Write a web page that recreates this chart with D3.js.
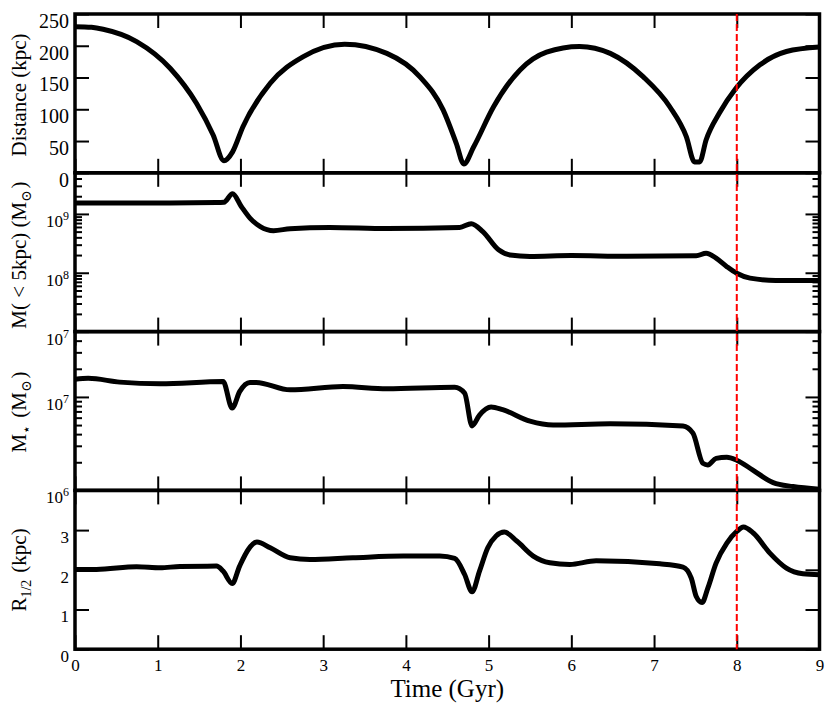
<!DOCTYPE html>
<html>
<head>
<meta charset="utf-8">
<script src="https://cdn.jsdelivr.net/npm/d3@7"></script>
<style>
  body { margin: 0; background: #fff; }
  svg, svg text { font-family: "Liberation Serif", "DejaVu Serif", serif !important; }
</style>
</head>
<body>
<svg width="830" height="706"></svg>
<script>
// distance to host (kpc)
const distT = [0, 0.2, 0.34, 0.745, 1.15, 1.47, 1.67, 1.80, 1.905, 2.03, 2.36, 2.76, 3.26, 3.77, 4.17, 4.45, 4.61, 4.70, 4.82, 5.06, 5.38, 5.70, 6.10, 6.47, 6.87, 7.19, 7.39, 7.49, 7.55, 7.63, 7.79, 7.99, 8.28, 8.60, 9.0];
const distV = [230, 229, 226, 206.6, 164.6, 109, 59.5, 19, 33, 72.5, 141, 183, 202.5, 188, 151, 99, 46, 14, 41, 104, 162, 190, 199, 188, 151, 104, 57, 17, 17, 52, 94, 133, 170, 191, 198];

// mass inside 5 kpc (Msun)
const m5T = [0, 1.0, 1.71, 1.80, 1.905, 2.01, 2.115, 2.24, 2.40, 2.60, 3.08, 3.77, 4.65, 4.79, 4.93, 5.12, 5.26, 5.50, 6.0, 6.67, 7.51, 7.63, 7.75, 7.88, 8.0, 8.16, 8.47, 9.0];
const m5V = [1.53e9, 1.53e9, 1.56e9, 1.58e9, 2.2e9, 1.34e9, 8.5e8, 6.1e8, 5.2e8, 5.6e8, 5.9e8, 5.65e8, 5.9e8, 6.8e8, 5.0e8, 2.45e8, 2.0e8, 1.89e8, 1.96e8, 1.9e8, 1.94e8, 2.15e8, 1.77e8, 1.27e8, 9.8e7, 8.1e7, 7.4e7, 7.4e7];

// stellar mass (Msun)
const mstT = [0, 0.16, 0.54, 1.03, 1.79, 1.90, 1.99, 2.115, 2.19, 2.60, 3.24, 3.77, 4.59, 4.71, 4.80, 4.89, 5.03, 5.17, 5.50, 5.78, 6.47, 7.35, 7.47, 7.59, 7.65, 7.75, 7.88, 8.0, 8.19, 8.44, 8.68, 9.0];
const mstV = [1.55e7, 1.58e7, 1.44e7, 1.38e7, 1.46e7, 7.6e6, 1.14e7, 1.43e7, 1.43e7, 1.19e7, 1.29e7, 1.22e7, 1.27e7, 1.10e7, 4.9e6, 6.4e6, 7.8e6, 7.3e6, 5.5e6, 5.0e6, 5.15e6, 4.9e6, 4.1e6, 1.95e6, 1.87e6, 2.2e6, 2.26e6, 2.1e6, 1.66e6, 1.21e6, 1.1e6, 1.03e6];

// half-light radius (kpc)
const rT = [0, 0.26, 0.745, 1.03, 1.27, 1.71, 1.79, 1.90, 1.99, 2.095, 2.20, 2.36, 2.60, 2.84, 3.36, 3.97, 4.41, 4.59, 4.71, 4.80, 4.89, 4.99, 5.09, 5.19, 5.34, 5.54, 5.74, 5.98, 6.30, 7.07, 7.35, 7.45, 7.51, 7.58, 7.65, 7.75, 7.88, 8.0, 8.08, 8.20, 8.40, 8.60, 8.80, 9.0];
const rV = [2.01, 2.01, 2.075, 2.05, 2.085, 2.093, 1.967, 1.655, 2.093, 2.512, 2.70, 2.555, 2.303, 2.26, 2.303, 2.345, 2.345, 2.285, 1.882, 1.445, 1.967, 2.555, 2.85, 2.95, 2.724, 2.345, 2.177, 2.134, 2.227, 2.15, 2.068, 1.79, 1.327, 1.175, 1.538, 2.169, 2.673, 2.966, 3.077, 2.926, 2.42, 2.043, 1.90, 1.874];

const xTicks = [0, 1, 2, 3, 4, 5, 6, 7, 8, 9];
const distTicks = [0, 50, 100, 150, 200, 250];
const m5Ticks = [1e7, 1e8, 1e9];
const mstTicks = [1e6, 1e7];
const rTicks = [0, 1, 2, 3];
const markTime = 8;

const svg = d3.select('svg');
const padL = 75, padR = 819.5, padT = 14, panelH = 158.8;

const x = d3.scaleLinear().domain([0, 9]).range([padL, padR]);

const minorLog = (lo, hi) => {
  let out = [];
  for (let e = Math.floor(Math.log10(lo)); e <= Math.ceil(Math.log10(hi)); e++) {
    for (let k = 2; k <= 9; k++) {
      let v = k * Math.pow(10, e);
      if (v > lo && v < hi) out.push(v);
    }
  }
  return out;
};

const panels = [
  {t: distT, v: distV, scale: d3.scaleLinear().domain([0, 250]), ticks: distTicks, minor: [], log: false, fs: 20},
  {t: m5T, v: m5V, scale: d3.scaleLog().domain([1e7, 5e9]), ticks: m5Ticks, minor: minorLog(1e7, 5e9), log: true, fs: 17},
  {t: mstT, v: mstV, scale: d3.scaleLog().domain([1e6, 5e7]), ticks: mstTicks, minor: minorLog(1e6, 5e7), log: true, fs: 17},
  {t: rT, v: rV, scale: d3.scaleLinear().domain([0, 4]), ticks: rTicks, minor: [], log: false, fs: 17}
];

svg.append('defs').append('clipPath').attr('id', 'clip')
  .append('rect').attr('x', padL).attr('y', padT)
  .attr('width', padR - padL).attr('height', panelH * 4);

panels.forEach((p, i) => {
  let y0 = padT + i * panelH, y1 = y0 + panelH;
  p.scale.range([y1, y0]);
  let y = p.scale;

  // major y ticks, labels on left
  let gl = svg.append('g').attr('transform', 'translate(' + padL + ',0)')
    .call(d3.axisLeft(y).tickValues(p.ticks).tickSize(-14).tickPadding(6).tickFormat(p.log ? () => '' : d3.format('d')));
  gl.select('.domain').remove();
  gl.selectAll('text').attr('y', 7).attr('font-size', p.fs).attr('fill', '#000');
  if (p.log) {
    gl.selectAll('text').each(function(d) {
      let s = d3.select(this);
      s.append('tspan').text('10');
      s.append('tspan').attr('dy', -7).attr('font-size', 12).text(Math.round(Math.log10(d)));
    });
  }
  let gr = svg.append('g').attr('transform', 'translate(' + padR + ',0)')
    .call(d3.axisRight(y).tickValues(p.ticks).tickSize(-14).tickFormat(''));
  gr.select('.domain').remove();

  if (p.minor.length) {
    [[d3.axisLeft, padL], [d3.axisRight, padR]].forEach(([ax, xx]) => {
      let g = svg.append('g').attr('transform', 'translate(' + xx + ',0)')
        .call(ax(y).tickValues(p.minor).tickSize(-7).tickFormat(''));
      g.select('.domain').remove();
    });
  }

  // x ticks on top and bottom of each panel
  let gt = svg.append('g').attr('transform', 'translate(0,' + y0 + ')')
    .call(d3.axisTop(x).tickValues(xTicks).tickSize(-14).tickFormat(''));
  gt.select('.domain').remove();
  let gb = svg.append('g').attr('transform', 'translate(0,' + y1 + ')')
    .call(d3.axisBottom(x).tickValues(xTicks).tickSize(-14).tickPadding(10)
      .tickFormat(i === 3 ? d3.format('d') : ''));
  gb.select('.domain').remove();
  gb.selectAll('text').attr('font-size', 17).attr('fill', '#000');

  // data
  let line = d3.line().x((d, j) => x(p.t[j])).y(d => y(d)).curve(d3.curveMonotoneX);
  svg.append('path').datum(p.v).attr('d', line)
    .attr('clip-path', 'url(#clip)')
    .attr('fill', 'none').attr('stroke', '#000').attr('stroke-width', 5)
    .attr('stroke-linejoin', 'round').attr('stroke-linecap', 'round');

  // frame
  svg.append('rect').attr('x', padL).attr('y', y0).attr('width', padR - padL).attr('height', panelH)
    .attr('fill', 'none').attr('stroke', '#000').attr('stroke-width', 3.5);
});

svg.selectAll('.tick line').attr('stroke', '#000').attr('stroke-width', 2);

// marker at t = 8 Gyr
svg.append('line')
  .attr('x1', x(markTime)).attr('x2', x(markTime))
  .attr('y1', padT).attr('y2', padT + 4 * panelH)
  .attr('stroke', '#ff0000').attr('stroke-width', 2).attr('stroke-dasharray', '7,3');

// axis titles
svg.append('text').attr('x', x(4.5)).attr('y', 697).attr('text-anchor', 'middle')
  .attr('font-size', 25).text('Time (Gyr)');

const ytitle = (cy, parts) => {
  let t = svg.append('text').attr('transform', 'translate(26,' + cy + ') rotate(-90)')
    .attr('text-anchor', 'middle').attr('font-size', 21);
  parts.forEach(([s, sub]) => {
    if (sub) {
      t.append('tspan').attr('dy', 5).attr('font-size', 14).text(s);
      t.append('tspan').attr('dy', -5).text('\u200a');
    } else {
      t.append('tspan').text(s);
    }
  });
};
ytitle(95, [['Distance (kpc)']]);
ytitle(255, [['M( < 5kpc) (M'], ['\u2299', true], [')']]);
ytitle(412, [['M'], ['\u22c6', true], [' (M'], ['\u2299', true], [')']]);
ytitle(570, [['R'], ['1/2', true], [' (kpc)']]);
</script>
</body>
</html>
